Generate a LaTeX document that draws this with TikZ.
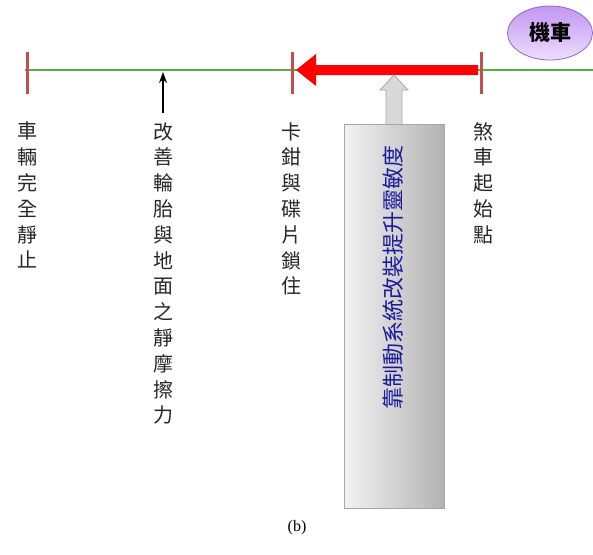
\documentclass[tikz,border=0pt]{standalone}
\usepackage{fontspec}
\setmainfont{Liberation Serif}
\newfontfamily\cjk{Noto Sans CJK TC}
\usetikzlibrary{arrows.meta,shapes.geometric}
\definecolor{tickc}{HTML}{C0504D}
\definecolor{gline}{HTML}{5AAE3C}
\definecolor{navyt}{HTML}{1A1A9A}
\definecolor{blockfill}{HTML}{D9D9D9}
\definecolor{blockline}{HTML}{A6A6A6}
\definecolor{ellline}{HTML}{8A6BC0}
\definecolor{elltop}{HTML}{C296F2}
\definecolor{ellbot}{HTML}{EEDDFF}
\begin{document}
\begin{tikzpicture}[x=1pt,y=-1pt,
  vlabel/.style={font=\cjk\fontsize{20}{25.8}\selectfont, align=center, inner sep=0pt, anchor=north, text=black!85},
  tickmark/.style={draw=tickc, line width=3pt},
]
\useasboundingbox (0,0) rectangle (593,554);
% baseline
\draw[gline, line width=1.6pt] (25,70) -- (593,70);
% red arrow
\fill[red] (478,65) -- (316,65) -- (316,54) -- (296,70) -- (316,86) -- (316,75) -- (478,75) -- cycle;
% ticks
\draw[tickmark] (27,52) -- (27,94);
\draw[tickmark] (292,52) -- (292,94);
\draw[tickmark] (481,52) -- (481,94);
% vehicle ellipse
\node[ellipse, minimum width=85pt, minimum height=54pt, draw=ellline, line width=0.8pt,
  shading=axis, shading angle=-35, top color=elltop, bottom color=ellbot,
  font=\cjk\bfseries\fontsize{21}{22}\selectfont, inner sep=0pt] (car) at (550,33) {機車};
% grey rectangle with upward block arrow
\fill[blockfill] (386,125) -- (386,90) -- (380,90) -- (394,75) -- (408,90) -- (402,90) -- (402,125) -- cycle;
\draw[blockline, line width=0.8pt] (386,124) -- (386,90) -- (380,90) -- (394,75) -- (408,90) -- (402,90) -- (402,124);
\node[draw=blockline, line width=0.8pt, left color=white!95!black, right color=black!30, minimum width=100pt, minimum height=384pt, inner sep=0pt] (box) at (394,316) {};
\node[rotate=90, font=\cjk\fontsize{22}{24}\selectfont, text=navyt, inner sep=0pt] (boxtext) at (393,277) {靠制動系統改裝提升靈敏度};
% labels
\node[vlabel] (stop) at (27,122) {車\\輛\\完\\全\\靜\\止};
\node[vlabel] (fric) at (163,122) {改\\善\\輪\\胎\\與\\地\\面\\之\\靜\\摩\\擦\\力};
\node[vlabel] (lock) at (291,122) {卡\\鉗\\與\\碟\\片\\鎖\\住};
\node[vlabel] (start) at (483,122) {煞\\車\\起\\始\\點};
\coordinate (fricpt) at (163,72);
\draw[-{Stealth[length=11pt,width=8pt]}, line width=1.2pt] ([yshift=9pt]fric.north) -- (fricpt);
\node[font=\fontsize{16}{18}\selectfont, inner sep=0pt] (cap) at (297,528) {(b)};
\end{tikzpicture}
\end{document}
